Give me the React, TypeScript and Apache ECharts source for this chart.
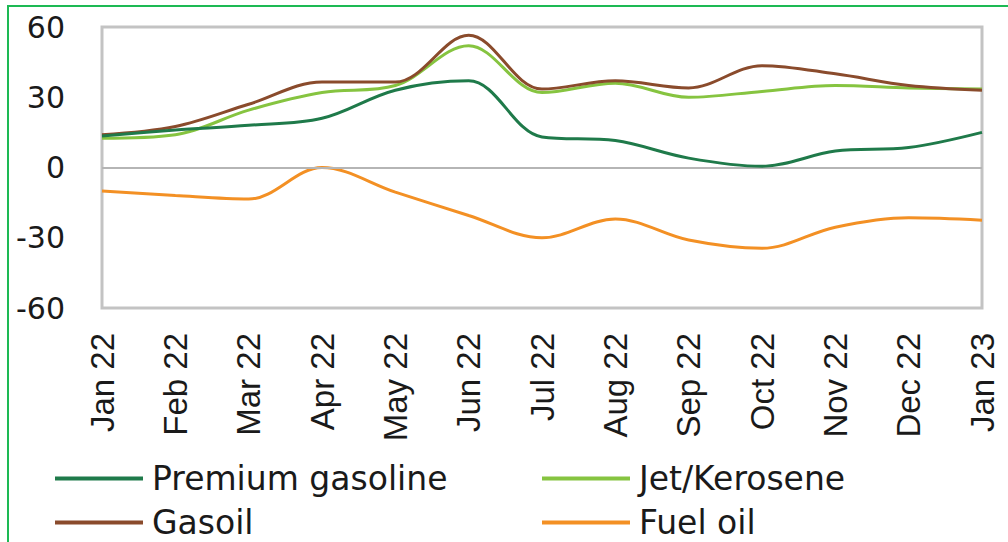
import React, { useEffect, useRef } from "react";
import * as echarts from "echarts";

const categories = ["Jan 22", "Feb 22", "Mar 22", "Apr 22", "May 22", "Jun 22", "Jul 22", "Aug 22", "Sep 22", "Oct 22", "Nov 22", "Dec 22", "Jan 23"];
const premiumGasoline = [13.5, 16, 18, 21, 33, 37, 13, 11.5, 4, 0.5, 7, 8.5, 15];
const jetKerosene = [12.5, 14, 24.5, 32, 35, 52, 32, 36, 30, 32.5, 35, 34, 33.5];
const gasoil = [14, 17.5, 27, 36.5, 36.5, 56.5, 33.5, 37, 34, 43.5, 40, 35, 33];
const fuelOil = [-10, -12, -13.5, 0, -10.5, -20.5, -30, -22, -31, -34.5, -25.5, -21.5, -22.5];
const yTicks = { min: -60, max: 60, interval: 30 };

const names = ["Premium gasoline", "Jet/Kerosene", "Gasoil", "Fuel oil"];
const colors = ["#1f7a4a", "#86c440", "#8a4b2c", "#f39024"];
const seriesData = [premiumGasoline, jetKerosene, gasoil, fuelOil];

export default function App() {
  const ref = useRef<HTMLDivElement>(null);
  useEffect(() => {
    if (!ref.current) return;
    const chart = echarts.init(ref.current, null, { renderer: "svg" });
    const legendPos = [
      { left: 55, top: 462 },
      { left: 542, top: 462 },
      { left: 55, top: 506 },
      { left: 542, top: 506 },
    ];
    chart.setOption({
      animation: false,
      backgroundColor: "#ffffff",
      grid: { left: 102, right: 26, top: 27, bottom: 234, show: true, borderColor: "#c3c3c3", borderWidth: 3, backgroundColor: "transparent" },
      xAxis: {
        type: "category",
        data: categories,
        boundaryGap: false,
        axisLine: { show: false },
        axisTick: { show: false },
        splitLine: { show: false },
        axisLabel: { interval: 0, rotate: 90, margin: 25, fontSize: 33, color: "#1a1a1a", fontFamily: "Liberation Sans, Arial, sans-serif" },
      },
      yAxis: {
        type: "value",
        min: yTicks.min,
        max: yTicks.max,
        interval: yTicks.interval,
        axisLine: { show: false },
        axisTick: { show: false },
        splitLine: { show: false },
        axisLabel: { margin: 37, fontSize: 30, color: "#1a1a1a", fontFamily: "DejaVu Sans, sans-serif" },
      },
      legend: names.map((n, i) => ({
        data: [n],
        left: legendPos[i].left,
        top: legendPos[i].top,
        icon: "rect",
        itemWidth: 88,
        itemHeight: 4,
        padding: 0,
        textStyle: { fontSize: 33, color: "#1a1a1a", fontFamily: "DejaVu Sans, sans-serif", padding: [0, 0, 0, 4], lineHeight: 28 },
      })),
      graphic: [
        { type: "rect", shape: { x: 8, y: 6, width: 1100, height: 700 }, style: { fill: "none", stroke: "#1db954", lineWidth: 2 }, silent: true },
      ],
      series: names.map((n, i) => ({
        name: n,
        type: "line",
        data: seriesData[i],
        smooth: 0.35,
        showSymbol: false,
        symbol: "none",
        lineStyle: { color: colors[i], width: 3 },
        itemStyle: { color: colors[i] },
        z: i === 0 ? 5 : 3,
        markLine: i === 0 ? {
          silent: true,
          symbol: "none",
          label: { show: false },
          lineStyle: { color: "#b5b5b5", width: 2, type: "solid" },
          data: [{ yAxis: 0 }],
        } : undefined,
      })),
    });
    return () => chart.dispose();
  }, []);
  return <div ref={ref} style={{ position: "fixed", left: 0, top: 0, width: 1008, height: 542 }} />;
}
